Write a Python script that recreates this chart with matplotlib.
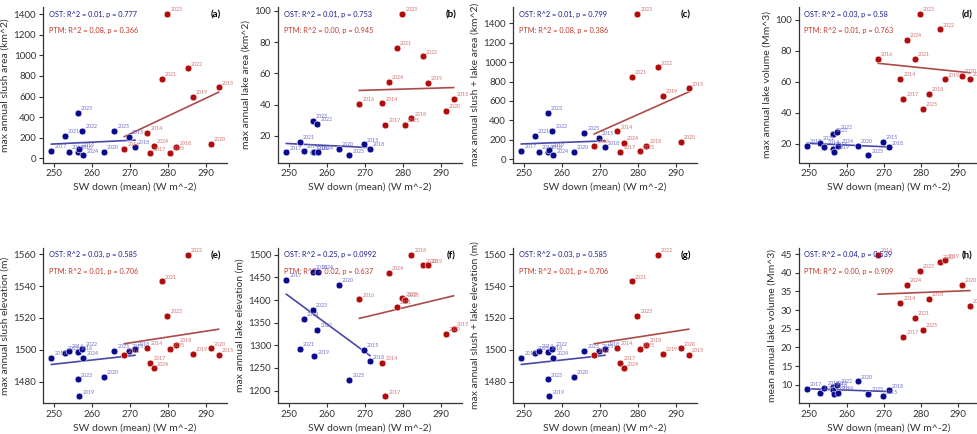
import numpy as np
import matplotlib
matplotlib.use("Agg")
import matplotlib.pyplot as plt

plt.rcParams['font.family'] = ['Lato', 'DejaVu Sans']

# years and SW down per site (same in every panel)
ost_years = [2017, 2021, 2014, 2023, 2016, 2019, 2022, 2024, 2020, 2025, 2015, 2018]
ost_sw = [249.4, 252.9, 254.0, 256.3, 256.3, 256.7, 257.5, 257.8, 263.1, 265.9, 269.7, 271.3]
ptm_years = [2016, 2014, 2017, 2024, 2021, 2023, 2025, 2018, 2022, 2019, 2020, 2015]
ptm_sw = [268.5, 274.5, 275.3, 276.3, 278.3, 279.8, 280.5, 282.1, 285.1, 286.4, 291.1, 293.2]

# (a) max slush area
slush_area_ost = [71, 216, 61, 442, 61, 87, 265, 29, 61, 265, 207, 110]
slush_area_ptm = [93, 248, 48, 119, 769, 1400, 54, 107, 873, 598, 142, 689]
# (b) max lake area
lake_area_ost = [9.4, 16.2, 10.4, 29.4, 9.4, 9.4, 27.5, 9.4, 11.7, 7.4, 14.5, 11.7]
lake_area_ptm = [40.3, 40.8, 27.0, 54.6, 76.5, 98.0, 26.8, 31.1, 71.0, 54.0, 36.0, 43.7]
# (c) max slush + lake area
total_area_ost = [82, 237, 72, 475, 72, 96, 292, 38, 72, 272, 220, 120]
total_area_ptm = [134, 286, 72, 169, 850, 1496, 79, 134, 946, 654, 179, 729]
# (d) max lake volume
max_vol_ost = [18.7, 20.5, 17.9, 26.1, 16.6, 14.8, 27.7, 18.7, 18.7, 12.5, 21.3, 17.7]
max_vol_ptm = [74.5, 62.0, 48.8, 86.7, 74.5, 103.5, 42.7, 52.0, 93.6, 61.4, 63.6, 61.6]
# (e) / (g) max slush elevation, slush + lake elevation
slush_elev_ost = [1495.2, 1498, 1499.5, 1481.5, 1498.5, 1471, 1500.5, 1495, 1483, 1499.5, 1499.5, 1500.5]
slush_elev_ptm = [1496.5, 1501.5, 1492, 1488.5, 1543, 1521.5, 1500.3, 1503, 1559.5, 1497.5, 1501, 1497]
total_elev_ost = [1495.2, 1498, 1499.5, 1481.5, 1498.5, 1471, 1500.5, 1495, 1483, 1499.5, 1499.5, 1500.5]
total_elev_ptm = [1496.5, 1501.5, 1492, 1488.5, 1543, 1521.5, 1500.3, 1503, 1559.5, 1497.5, 1501, 1497]
# (f) max lake elevation
lake_elev_ost = [1445, 1292, 1359, 1379, 1462, 1276, 1335, 1463, 1434, 1224, 1290, 1265]
lake_elev_ptm = [1402, 1261, 1187.5, 1461, 1385, 1404, 1401, 1500, 1476.5, 1476.5, 1326, 1336]
# (h) mean lake volume
mean_vol_ost = [8.8, 7.8, 9.2, 9.3, 8.7, 7.5, 9.8, 7.8, 10.9, 7.6, 6.9, 8.5]
mean_vol_ptm = [44.8, 32.0, 22.8, 36.7, 28.0, 40.6, 24.7, 33.1, 43.0, 43.3, 36.7, 31.2]

panels = [
    ("(a)", "max annual slush area (km^2)", slush_area_ost, slush_area_ptm,
     "OST: R^2 = 0.01, p = 0.777", "PTM: R^2 = 0.08, p = 0.366", (0, 1401, 200)),
    ("(b)", "max annual lake area (km^2)", lake_area_ost, lake_area_ptm,
     "OST: R^2 = 0.01, p = 0.753", "PTM: R^2 = 0.00, p = 0.945", (20, 101, 20)),
    ("(c)", "max annual slush + lake area (km^2)", total_area_ost, total_area_ptm,
     "OST: R^2 = 0.01, p = 0.799", "PTM: R^2 = 0.08, p = 0.386", (0, 1401, 200)),
    ("(d)", "max annual lake volume (Mm^3)", max_vol_ost, max_vol_ptm,
     "OST: R^2 = 0.03, p = 0.58", "PTM: R^2 = 0.01, p = 0.763", (20, 101, 20)),
    ("(e)", "max annual slush elevation (m)", slush_elev_ost, slush_elev_ptm,
     "OST: R^2 = 0.03, p = 0.585", "PTM: R^2 = 0.01, p = 0.706", (1480, 1561, 20)),
    ("(f)", "max annual lake elevation (m)", lake_elev_ost, lake_elev_ptm,
     "OST: R^2 = 0.25, p = 0.0992", "PTM: R^2 = 0.02, p = 0.637", (1200, 1501, 50)),
    ("(g)", "max annual slush + lake elevation (m)", total_elev_ost, total_elev_ptm,
     "OST: R^2 = 0.03, p = 0.585", "PTM: R^2 = 0.01, p = 0.706", (1480, 1561, 20)),
    ("(h)", "mean annual lake volume (Mm^3)", mean_vol_ost, mean_vol_ptm,
     "OST: R^2 = 0.04, p = 0.539", "PTM: R^2 = 0.00, p = 0.909", (10, 46, 5)),
]

W, H = 977, 434
lefts = [43, 278, 513, 799]
widths = [184, 184, 184, 179]
row_top = [7, 247.8]
ax_h = 155.5

BLUE = '#0a0a8c'
RED = '#b00c0c'


def draw_site(ax, sw, vals, years, col, line_col, lab_col):
    sw = np.array(sw)
    vals = np.array(vals)
    ax.scatter(sw, vals, s=24, color=col, edgecolor='white', linewidth=0.4, zorder=3)
    k, b = np.polyfit(sw, vals, 1)
    xs = np.array([sw.min(), sw.max()])
    ax.plot(xs, k * xs + b, color=line_col, lw=1.2, zorder=2)
    for x, y, yr in zip(sw, vals, years):
        ax.annotate(str(yr), (x, y), xytext=(2.2, 1.2), textcoords='offset points',
                    fontsize=3.8, color=lab_col, va='bottom', ha='left', zorder=4)


fig = plt.figure(figsize=(W / 100, H / 100), dpi=100)
for i, (letter, ylab, v_ost, v_ptm, t_ost, t_ptm, yt) in enumerate(panels):
    r, c = divmod(i, 4)
    bottom = H - row_top[r] - ax_h
    ax = fig.add_axes([lefts[c] / W, bottom / H, widths[c] / W, ax_h / H])
    draw_site(ax, ost_sw, v_ost, ost_years, BLUE, '#4848a8', '#7070cc')
    draw_site(ax, ptm_sw, v_ptm, ptm_years, RED, '#ac4a4a', '#d27272')
    ax.set_xticks([250, 260, 270, 280, 290])
    ax.set_yticks(np.arange(*yt))
    ax.set_xlabel("SW down (mean) (W m^-2)", fontsize=7.5, color='#333333', labelpad=3)
    ax.set_ylabel(ylab, fontsize=7.5, color='#333333', labelpad=3)
    ax.tick_params(labelsize=7, length=3, width=0.8, colors='#333333', pad=2)
    for s in ['top', 'right']:
        ax.spines[s].set_visible(False)
    for s in ['left', 'bottom']:
        ax.spines[s].set_linewidth(0.9)
        ax.spines[s].set_color('#333333')
    ax.text(0.03, 0.955, t_ost, transform=ax.transAxes, fontsize=5.3,
            color='#1c1c8e', va='center', ha='left')
    ax.text(0.03, 0.85, t_ptm, transform=ax.transAxes, fontsize=5.3,
            color='#c0392b', va='center', ha='left')
    ax.text(0.94, 0.95, letter, transform=ax.transAxes, fontsize=7,
            fontweight='bold', va='center', ha='center')

fig.savefig("out.png", dpi=100)
